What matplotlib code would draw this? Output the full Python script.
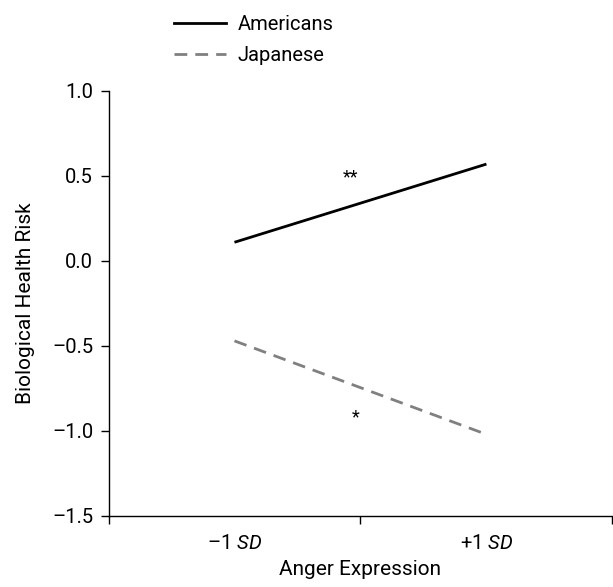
import matplotlib
matplotlib.use("Agg")
import matplotlib.pyplot as plt
from matplotlib.lines import Line2D

plt.rcParams['font.family'] = ['Roboto', 'DejaVu Sans']
plt.rcParams['mathtext.fontset'] = 'custom'
plt.rcParams['mathtext.rm'] = 'Roboto'
plt.rcParams['mathtext.it'] = 'Roboto:italic'

x_labels = ["\u20131 $\\it{SD}$", "+1 $\\it{SD}$"]
x_pos = [0.5, 1.5]
americans = [0.11, 0.57]
japanese = [-0.47, -1.02]
yticks = [1.0, 0.5, 0.0, -0.5, -1.0, -1.5]
star_am = (0.96, 0.49, "**")
star_jp = (0.98, -0.92, "*")

DASH = (0, (4.6, 2.9))

fig = plt.figure(figsize=(6.13, 5.87), dpi=100)
ax = fig.add_axes([0.177, 0.121, 0.822, 0.724])

ax.plot(x_pos, americans, color='black', lw=2.0, solid_capstyle='butt', label='Americans')
ax.plot(x_pos, japanese, color='#808080', lw=2.0, ls=DASH, label='Japanese')

ax.text(star_am[0], star_am[1], star_am[2], ha='center', va='center', fontsize=13)
ax.text(star_jp[0], star_jp[1], star_jp[2], ha='center', va='center', fontsize=13)

ax.set_xlim(0, 2)
ax.set_ylim(-1.5, 1.0)
ax.set_yticks(yticks)
ax.set_yticklabels([f"{v:.1f}".replace('-', '\u2013') for v in yticks])
ax.set_xticks([0, 1, 2])
ax.set_xticklabels([])
ax.set_xticks(x_pos, minor=True)
ax.set_xticklabels(x_labels, minor=True)
ax.tick_params(axis='x', which='minor', length=0, pad=13, labelsize=14.5)
ax.tick_params(axis='x', which='major', length=6, width=1, direction='out')
ax.tick_params(axis='y', length=6, width=1, direction='out', labelsize=14.5, pad=5)

for s in ['top', 'right']:
    ax.spines[s].set_visible(False)
for s in ['left', 'bottom']:
    ax.spines[s].set_linewidth(1.0)

ax.set_xlabel('Anger Expression', fontsize=15, labelpad=5)
ax.set_ylabel('Biological Health Risk', fontsize=15, labelpad=12)

handles = [Line2D([0], [0], color='black', lw=2.0),
           Line2D([0], [0], color='#808080', lw=2.0, ls=DASH)]
fig.legend(handles, ['Americans', 'Japanese'], loc='upper left',
           bbox_to_anchor=(0.254, 1.006), frameon=False, fontsize=14.5,
           handlelength=2.6, handletextpad=0.55, labelspacing=0.6)

fig.savefig('out.png', dpi=100)
